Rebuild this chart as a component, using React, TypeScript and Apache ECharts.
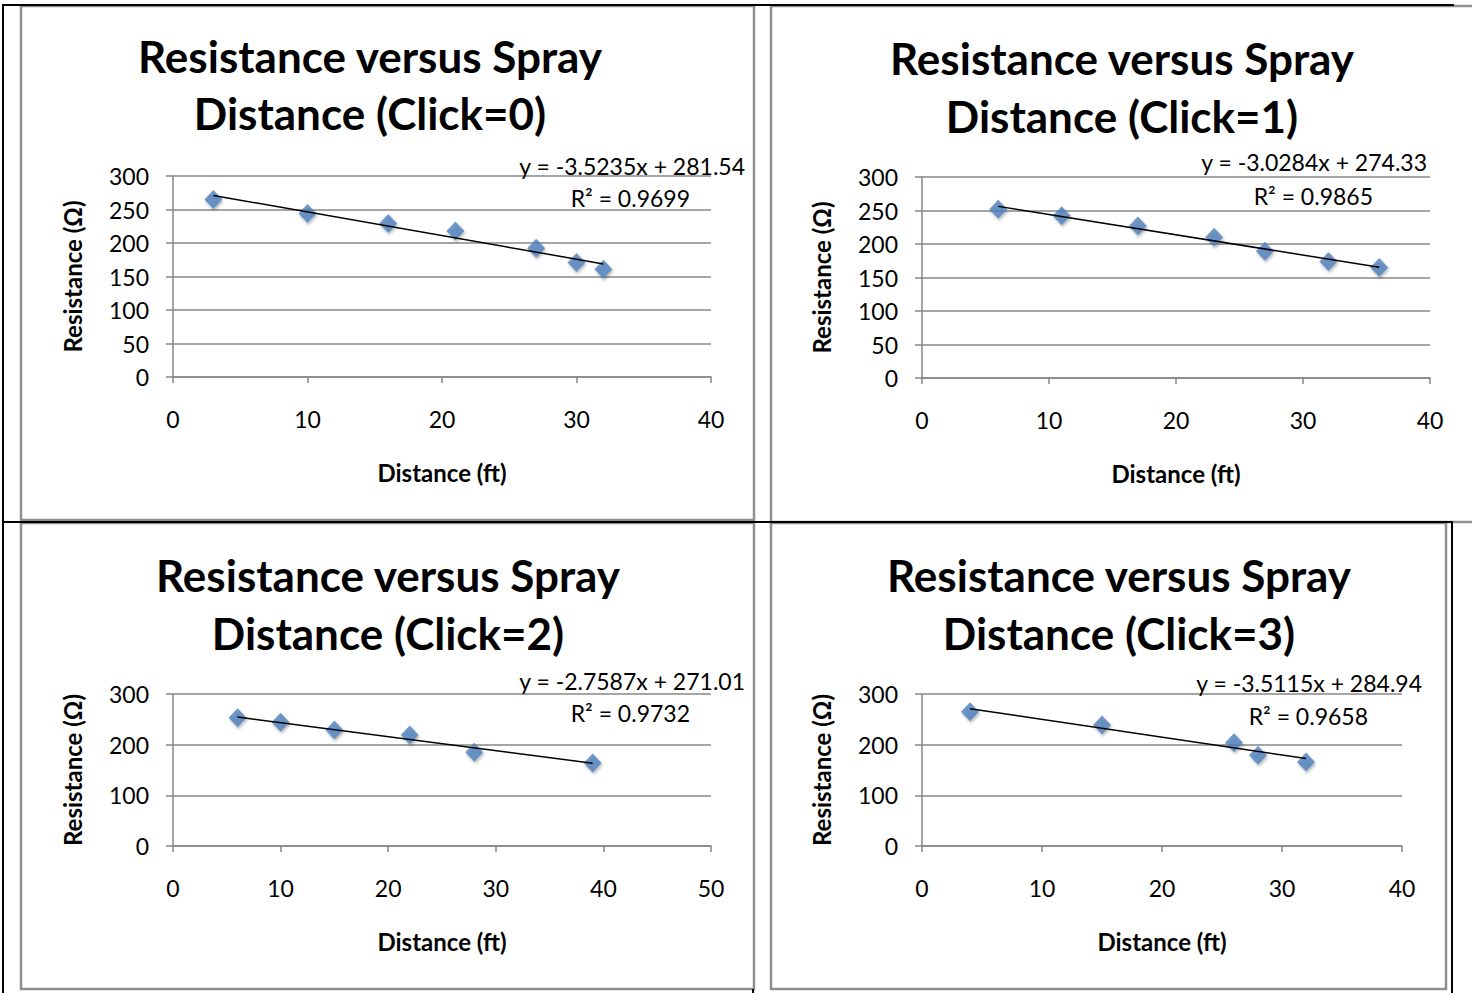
import React, { useEffect, useRef } from "react";
import * as echarts from "echarts";

// ---- data ----
const clicks = ["0", "1", "2", "3"];
const dist0 = [3, 10, 16, 21, 27, 30, 32];
const res0 = [265, 244, 229, 218, 192, 171, 161];
const dist1 = [6, 11, 17, 23, 27, 32, 36];
const res1 = [252, 242, 227, 210, 189, 174, 165];
const dist2 = [6, 10, 15, 22, 28, 39];
const res2 = [253, 244, 229, 219, 185, 164];
const dist3 = [4, 15, 26, 28, 32];
const res3 = [265, 239, 204, 179, 166];
const slopes = [-3.5235, -3.0284, -2.7587, -3.5115];
const intercepts = [281.54, 274.33, 271.01, 284.94];
const rSquared = ["0.9699", "0.9865", "0.9732", "0.9658"];
const xMax = [40, 40, 50, 40];
const yMax = [300, 300, 300, 300];
const yStep = [50, 50, 100, 100];

const dists = [dist0, dist1, dist2, dist3];
const ress = [res0, res1, res2, res3];

// ---- layout ----
const grids = [
  { left: 173, top: 176, width: 538, height: 201 },
  { left: 922, top: 177, width: 508, height: 201 },
  { left: 173, top: 694, width: 538, height: 152 },
  { left: 922, top: 694, width: 480, height: 152 },
];
const titlePos = [
  { x: 370, y1: 56, y2: 113 },
  { x: 1122, y1: 58, y2: 116 },
  { x: 388, y1: 575, y2: 633 },
  { x: 1119, y1: 575, y2: 633 },
];
const eqPos = [
  { x: 745, y: 166, rx: 690, ry: 198 },
  { x: 1427, y: 162, rx: 1373, ry: 196 },
  { x: 745, y: 681, rx: 690, ry: 713 },
  { x: 1422, y: 683, rx: 1368, ry: 716 },
];

const FONT = "Lato, 'Open Sans', sans-serif";
const GRAY = "#878787";
const BLUE = "#4F81BD";

function fmt(v: number) {
  return v.toString();
}

export default function App() {
  const ref = useRef<HTMLDivElement>(null);
  useEffect(() => {
    if (!ref.current) return;
    const chart = echarts.init(ref.current, undefined, { renderer: "svg" });

    const xAxis: any[] = [];
    const yAxis: any[] = [];
    const series: any[] = [];
    const graphic: any[] = [];

    const blackLine = (x1: number, y1: number, x2: number, y2: number) => ({
      type: "line",
      shape: { x1, y1, x2, y2 },
      style: { stroke: "#000", lineWidth: 2 },
      silent: true,
    });
    graphic.push(blackLine(3, 5, 1454, 5));
    graphic.push(blackLine(3, 4, 3, 993));
    graphic.push(blackLine(3, 522, 1453, 522));
    graphic.push(blackLine(1452, 522, 1452, 993));
    graphic.push(blackLine(753, 989, 753, 993));
    const boxes = [
      { x: 21, y: 6, w: 733, h: 514 },
      { x: 771, y: 6, w: 710, h: 516 },
      { x: 21, y: 523, w: 733, h: 466 },
      { x: 771, y: 523, w: 675, h: 466 },
    ];
    boxes.forEach((b) => {
      graphic.push({
        type: "rect",
        shape: { x: b.x, y: b.y, width: b.w, height: b.h },
        style: { fill: "#fff", stroke: "#8f8f8f", lineWidth: 2.5 },
        silent: true,
        z: -10,
      });
    });

    grids.forEach((g, i) => {
      xAxis.push({
        type: "value",
        gridIndex: i,
        min: 0,
        max: xMax[i],
        interval: 10,
        name: "Distance (ft)",
        nameLocation: "middle",
        nameGap: 83,
        nameTextStyle: { fontFamily: FONT, fontWeight: "bold", fontSize: 24, color: "#000" },
        axisLine: { show: true, onZero: false, lineStyle: { color: GRAY, width: 1.5 } },
        axisTick: { show: true, length: 6, lineStyle: { color: GRAY, width: 1.5 } },
        axisLabel: { fontFamily: FONT, fontSize: 23, color: "#000", margin: 30, formatter: fmt },
        splitLine: { show: false },
      });
      yAxis.push({
        type: "value",
        gridIndex: i,
        min: 0,
        max: yMax[i],
        interval: yStep[i],
        name: "Resistance (Ω)",
        nameLocation: "middle",
        nameRotate: 90,
        nameGap: 89,
        nameTextStyle: { fontFamily: FONT, fontWeight: "bold", fontSize: 24, color: "#000" },
        axisLine: { show: true, onZero: false, lineStyle: { color: GRAY, width: 1.5 } },
        axisTick: { show: true, length: 7, lineStyle: { color: GRAY, width: 1.5 } },
        axisLabel: { fontFamily: FONT, fontSize: 23, color: "#000", margin: 24, formatter: fmt },
        splitLine: { show: true, lineStyle: { color: GRAY, width: 1.5 } },
      });
      const d = dists[i];
      const r = ress[i];
      series.push({
        type: "scatter",
        xAxisIndex: i,
        yAxisIndex: i,
        symbol: "diamond",
        symbolSize: [18, 19],
        itemStyle: {
          color: BLUE,
          shadowBlur: 3,
          shadowColor: "rgba(0,0,0,0.35)",
          shadowOffsetX: 1,
          shadowOffsetY: 2,
        },
        data: d.map((x, k) => [x, r[k]]),
        z: 2,
      });
      const xs = Math.min(...d);
      const xe = Math.max(...d);
      series.push({
        type: "line",
        xAxisIndex: i,
        yAxisIndex: i,
        symbol: "none",
        lineStyle: { color: "#000", width: 1.5 },
        data: [
          [xs, slopes[i] * xs + intercepts[i]],
          [xe, slopes[i] * xe + intercepts[i]],
        ],
        z: 3,
      });

      const t = titlePos[i];
      graphic.push({
        type: "text",
        x: t.x,
        y: t.y1,
        style: {
          text: "Resistance versus Spray",
          font: `bold 44px ${FONT}`,
          fill: "#000",
          textAlign: "center",
          textVerticalAlign: "middle",
        },
      });
      graphic.push({
        type: "text",
        x: t.x,
        y: t.y2,
        style: {
          text: `Distance (Click=${clicks[i]})`,
          font: `bold 44px ${FONT}`,
          fill: "#000",
          textAlign: "center",
          textVerticalAlign: "middle",
        },
      });
      const e = eqPos[i];
      graphic.push({
        type: "text",
        x: e.x,
        y: e.y,
        z: 10,
        style: {
          text: `y = ${slopes[i]}x + ${intercepts[i].toFixed(2)}`,
          font: `23px ${FONT}`,
          fill: "#000",
          textAlign: "right",
          textVerticalAlign: "middle",
        },
      });
      graphic.push({
        type: "text",
        x: e.rx,
        y: e.ry,
        z: 10,
        style: {
          text: `R² = ${rSquared[i]}`,
          font: `23px ${FONT}`,
          fill: "#000",
          textAlign: "right",
          textVerticalAlign: "middle",
        },
      });
    });

    chart.setOption({
      animation: false,
      backgroundColor: "#fff",
      grid: grids.map((g) => ({ ...g, containLabel: false, outerBoundsMode: "none" })),
      xAxis,
      yAxis,
      series,
      graphic,
    });
    return () => chart.dispose();
  }, []);

  return (
    <div
      ref={ref}
      style={{ position: "absolute", left: 0, top: 0, width: 1472, height: 993 }}
    />
  );
}
